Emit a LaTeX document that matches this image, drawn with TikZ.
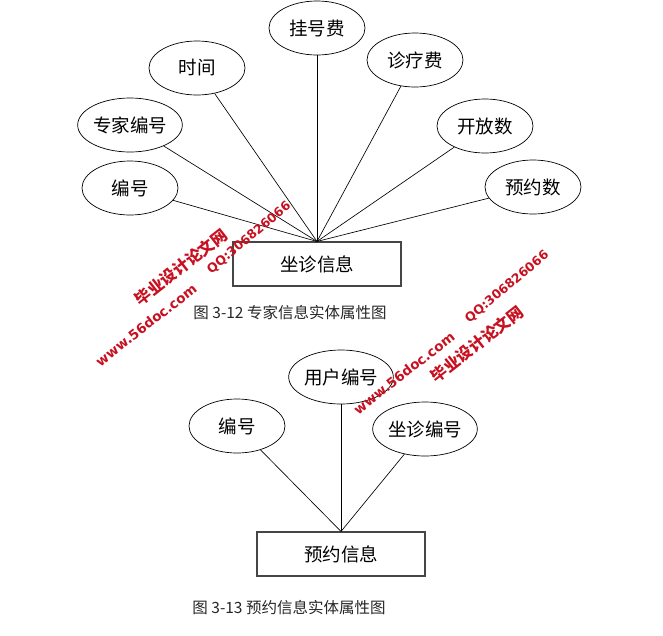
\documentclass[tikz,border=0pt]{standalone}
\usepackage{fontspec}
\newfontfamily\cjk{Noto Sans CJK SC}
\newfontfamily\wmlat{DejaVu Sans}
\usetikzlibrary{shapes.geometric}
\definecolor{wmred}{RGB}{200,16,32}
\definecolor{boxgray}{RGB}{70,70,70}
\tikzset{
  attr/.style={draw, ellipse, line width=0.7pt, minimum width=96pt, minimum height=54pt, inner sep=0pt, font=\cjk\fontsize{18.5}{18.5}\selectfont},
  entity/.style={draw=boxgray, rectangle, line width=1.1pt, minimum width=168pt, minimum height=44pt, inner sep=0pt, font=\cjk\fontsize{18.5}{18.5}\selectfont},
  link/.style={line width=0.65pt},
  caption/.style={font=\cjk\fontsize{15.5}{15.5}\selectfont, text=black!85, inner sep=0pt},
  wmcn/.style={font=\cjk\bfseries\fontsize{16}{16}\selectfont, text=wmred, rotate=38, inner sep=0pt},
  wmen/.style={font=\wmlat\bfseries\fontsize{13.5}{13.5}\selectfont, text=wmred, rotate=38, inner sep=0pt},
  wmqq/.style={font=\wmlat\bfseries\fontsize{12.5}{12.5}\selectfont, text=wmred, rotate=40, inner sep=0pt}
}
\begin{document}
\begin{tikzpicture}[x=1pt,y=-1pt]
\useasboundingbox (0,0) rectangle (663,635);
% top diagram
\node[entity] (e1) at (317,264) {坐诊信息};
\node[attr] (a1) at (130,188) {编号};
\node[attr] (a2) at (130,125) {专家编号};
\node[attr] (a3) at (197,68) {时间};
\node[attr] (a4) at (317,28) {挂号费};
\node[attr] (a5) at (415,60) {诊疗费};
\node[attr] (a6) at (485,126) {开放数};
\node[attr] (a7) at (533,187) {预约数};
\foreach \n in {a1,a2,a3,a4,a5,a6,a7} \draw[link] (\n) -- (e1.north);
\node[caption] (c1) at (290,313) {图 3-12 专家信息实体属性图};
% bottom diagram
\node[entity] (e2) at (341,554) {预约信息};
\node[attr] (b1) at (237,426) {编号};
\node[attr] (b2) at (341,377) {用户编号};
\node[attr] (b3) at (425,429) {坐诊编号};
\foreach \n in {b1,b2,b3} \draw[link] (\n) -- (e2.north);
\node[caption] (c2) at (289,608) {图 3-13 预约信息实体属性图};
% watermarks
\node[wmcn] (w1) at (181,267) {毕业设计论文网};
\node[wmen] (w2) at (146,325) {www.56doc.com};
\node[wmqq] (w3) at (249,238) {QQ:306826066};
\node[wmcn] (w4) at (477,344) {毕业设计论文网};
\node[wmen] (w5) at (404,373) {www.56doc.com};
\node[wmqq] (w6) at (507,287) {QQ:306826066};
\end{tikzpicture}
\end{document}
